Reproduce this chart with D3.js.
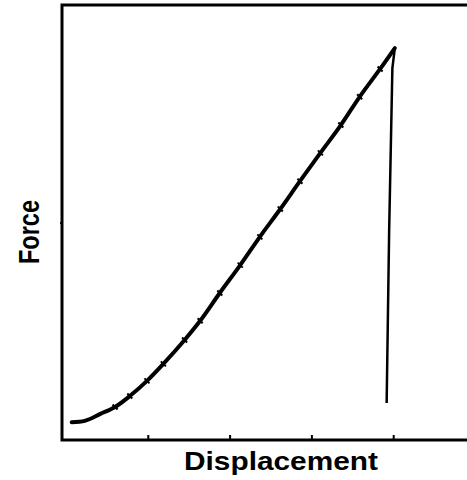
<!DOCTYPE html>
<html>
<head>
<meta charset="utf-8">
<script src="https://cdn.jsdelivr.net/npm/d3@7.9.0/dist/d3.min.js"></script>
<style>
  body { margin: 0; background: #fff; }
</style>
</head>
<body>
<svg id="chart"></svg>
<script>
// loading curve (displacement, force) in arbitrary units
const displacement = [0.07, 0.23, 0.42, 0.60, 0.78, 0.99, 1.19, 1.45, 1.64, 1.88, 2.13, 2.37, 2.62, 2.86, 3.11, 3.36, 3.59, 3.84, 4.02];
const force = [0.41, 0.44, 0.60, 0.76, 1.01, 1.36, 1.75, 2.30, 2.74, 3.38, 4.02, 4.67, 5.31, 5.95, 6.60, 7.24, 7.89, 8.53, 9.01];
// fracture drop
const dropDisplacement = [4.02, 3.99, 3.95, 3.92];
const dropForce = [9.01, 8.55, 4.76, 0.85];

const xTicks = [1, 2, 3, 4];
const yTicks = [5];

const width = 467, height = 480;
const frame = { left: 62, top: 5, bottom: 440, right: 475 };

const svg = d3.select("#chart").attr("width", width).attr("height", height);

const x = d3.scaleLinear().domain([0, 5]).range([66, 475]);
const y = d3.scaleLinear().domain([0, 10]).range([frame.bottom, frame.top]);

// frame (open on the right, runs off the page)
svg.append("path")
  .attr("d", `M${frame.right},${frame.top} H${frame.left} V${frame.bottom} H${frame.right}`)
  .attr("fill", "none")
  .attr("stroke", "#000")
  .attr("stroke-width", 3);

// inward ticks
const xAxis = d3.axisTop(x).tickValues(xTicks).tickSize(5).tickFormat("");
svg.append("g")
  .attr("transform", `translate(0, ${frame.bottom})`)
  .call(xAxis)
  .call(g => g.select(".domain").remove())
  .selectAll("line").attr("stroke-width", 2);

const yAxis = d3.axisRight(y).tickValues(yTicks).tickSize(3).tickFormat("");
svg.append("g")
  .attr("transform", `translate(${frame.left - 2}, 0)`)
  .call(yAxis)
  .call(g => g.select(".domain").remove())
  .selectAll("line").attr("stroke-width", 2);

const line = d3.line()
  .x(d => x(d[0]))
  .y(d => y(d[1]))
  .curve(d3.curveCatmullRom.alpha(0.5));

const loading = displacement.map((d, i) => [d, force[i]]);
svg.append("path")
  .datum(loading)
  .attr("d", line)
  .attr("fill", "none")
  .attr("stroke", "#000")
  .attr("stroke-width", 4)
  .attr("stroke-linejoin", "round")
  .attr("stroke-linecap", "round");

// small scatter crosses along the trace
svg.selectAll("line.mark")
  .data(loading.slice(3, -1))
  .enter()
  .append("line")
  .attr("class", "mark")
  .attr("x1", d => x(d[0]) - 2.5)
  .attr("x2", d => x(d[0]) + 2.5)
  .attr("y1", d => y(d[1]) - 2.5)
  .attr("y2", d => y(d[1]) + 2.5)
  .attr("stroke", "#000")
  .attr("stroke-width", 2);

const drop = dropDisplacement.map((d, i) => [d, dropForce[i]]);
svg.append("path")
  .datum(drop)
  .attr("d", d3.line().x(d => x(d[0])).y(d => y(d[1])))
  .attr("fill", "none")
  .attr("stroke", "#000")
  .attr("stroke-width", 2.5)
  .attr("stroke-linejoin", "round");

svg.append("text")
  .attr("x", 281)
  .attr("y", 470)
  .attr("text-anchor", "middle")
  .attr("textLength", 194)
  .attr("lengthAdjust", "spacingAndGlyphs")
  .style("font-family", "'Liberation Sans', Arial, sans-serif")
  .style("font-weight", "bold")
  .style("font-size", "26px")
  .text("Displacement");

svg.append("text")
  .attr("transform", "translate(39, 232) rotate(-90)")
  .attr("text-anchor", "middle")
  .attr("textLength", 64)
  .attr("lengthAdjust", "spacingAndGlyphs")
  .style("font-family", "'Liberation Sans', Arial, sans-serif")
  .style("font-weight", "bold")
  .style("font-size", "29px")
  .text("Force");
</script>
</body>
</html>
